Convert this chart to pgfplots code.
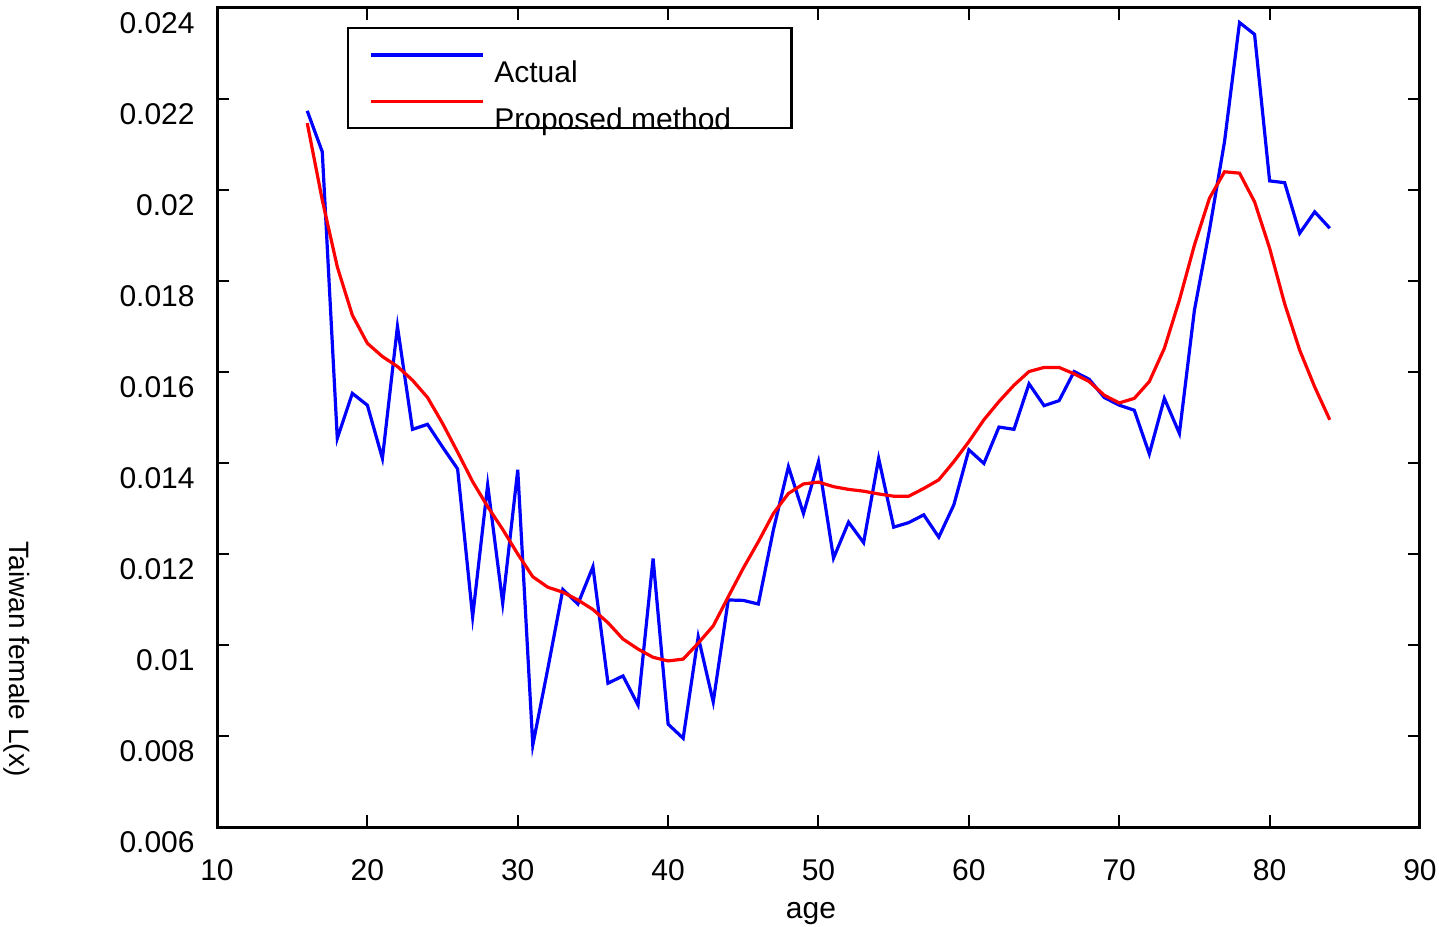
\documentclass[border=0pt]{standalone}
\usepackage{pgfplots}
\pgfplotsset{compat=1.18}
\usepackage{fontspec}
\setmainfont{Liberation Sans}

\begin{document}
\fontsize{15pt}{18pt}\selectfont
\begin{tikzpicture}
\begin{axis}[
  scale only axis,
  width=601.5pt, height=409.5pt,
  at={(108.5pt,49.5pt)}, anchor=south west,
  xmin=10, xmax=90, ymin=0.006, ymax=0.024,
  xtick={10,20,30,40,50,60,70,80,90},
  xticklabels={10,20,30,40,50,60,70,80,90},
  ytick={0.006,0.008,0.010,0.012,0.014,0.016,0.018,0.020,0.022,0.024},
  yticklabels={0.006,0.008,0.01,0.012,0.014,0.016,0.018,0.02,0.022,0.024},
  scaled y ticks=false,
  tick align=inside,
  major tick length=6pt,
  tick style={line width=1pt, black},
  axis line style={line width=1.5pt},
  tick label style={font=\fontsize{15pt}{18pt}\selectfont, inner sep=0pt},
  xticklabel style={anchor=base, yshift=-26.5pt},
  yticklabel style={anchor=base east, xshift=-11pt, yshift=-12.75pt},
  xlabel={age},
  every axis x label/.style={at={(axis description cs:0.5,0)}, anchor=base,
    yshift=-45.5pt, xshift=-3.75pt, font=\fontsize{15pt}{18pt}\selectfont},
  ylabel={Taiwan female L(x)},
  every axis y label/.style={at={(axis description cs:-0.1668,0.205)},
    anchor=center, rotate=-90, inner sep=0pt,
    font=\fontsize{14pt}{17pt}\selectfont},
  legend style={at={(axis description cs:0.108,0.9768)}, anchor=north west,
    draw=black, line width=1.25pt, fill=white,
    inner xsep=10.5pt, inner ysep=12.25pt, row sep=21pt,
    /tikz/every odd column/.append style={column sep=5pt},
    nodes={inner sep=0pt}, font=\fontsize{15pt}{18pt}\selectfont},
  legend cell align=left,
  legend image code/.code={\draw[#1] (0pt,0pt) -- (56pt,0pt);},
]
% observed rates by age
\addplot[blue, line width=1.6pt] coordinates {
(16,0.02174) (17,0.02084) (18,0.01454) (19,0.01553) (20,0.01527)
(21,0.01410) (22,0.01700) (23,0.01474) (24,0.01485) (25,0.01435)
(26,0.01387) (27,0.01062) (28,0.01352) (29,0.01092) (30,0.01385)
(31,0.00780) (32,0.00948) (33,0.01122) (34,0.01090) (35,0.01172)
(36,0.00916) (37,0.00932) (38,0.00868) (39,0.01190) (40,0.00826)
(41,0.00795) (42,0.01018) (43,0.00875) (44,0.01099) (45,0.01098)
(46,0.01090) (47,0.01253) (48,0.01392) (49,0.01289) (50,0.01403)
(51,0.01191) (52,0.01270) (53,0.01225) (54,0.01410) (55,0.01259)
(56,0.01269) (57,0.01286) (58,0.01237) (59,0.01308) (60,0.01429)
(61,0.01399) (62,0.01479) (63,0.01474) (64,0.01574) (65,0.01526)
(66,0.01537) (67,0.01601) (68,0.01584) (69,0.01544) (70,0.01527)
(71,0.01516) (72,0.01420) (73,0.01542) (74,0.01465) (75,0.01736)
(76,0.01912) (77,0.02106) (78,0.02368) (79,0.02342) (80,0.02020)
(81,0.02016) (82,0.01905) (83,0.01952) (84,0.01916)
};
\addlegendentry{\raisebox{-15pt}[0pt][0pt]{Actual}}
% fitted rates by age
\addplot[red, line width=1.6pt] coordinates {
(16,0.02147) (17,0.01978) (18,0.01831) (19,0.01725) (20,0.01663)
(21,0.01634) (22,0.01612) (23,0.01582) (24,0.01544) (25,0.01487)
(26,0.01424) (27,0.01359) (28,0.01304) (29,0.01254) (30,0.01200)
(31,0.01150) (32,0.01127) (33,0.01116) (34,0.01099) (35,0.01078)
(36,0.01049) (37,0.01013) (38,0.00991) (39,0.00973) (40,0.00965)
(41,0.00969) (42,0.01004) (43,0.01042) (44,0.01106) (45,0.01169)
(46,0.01227) (47,0.01289) (48,0.01333) (49,0.01354) (50,0.01358)
(51,0.01348) (52,0.01342) (53,0.01338) (54,0.01332) (55,0.01327)
(56,0.01327) (57,0.01344) (58,0.01363) (59,0.01403) (60,0.01447)
(61,0.01495) (62,0.01535) (63,0.01571) (64,0.01601) (65,0.01610)
(66,0.01610) (67,0.01596) (68,0.01579) (69,0.01549) (70,0.01532)
(71,0.01542) (72,0.01579) (73,0.01652) (74,0.01758) (75,0.01879)
(76,0.01982) (77,0.02040) (78,0.02037) (79,0.01974) (80,0.01872)
(81,0.01750) (82,0.01648) (83,0.01567) (84,0.01495)
};
\addlegendentry{\raisebox{-15pt}[0pt][0pt]{\makebox[138pt][l]{Proposed method}}}
\end{axis}
% page frame
\pgfresetboundingbox
\useasboundingbox (0,0) rectangle (719.5pt,463pt);
\end{tikzpicture}
\end{document}
